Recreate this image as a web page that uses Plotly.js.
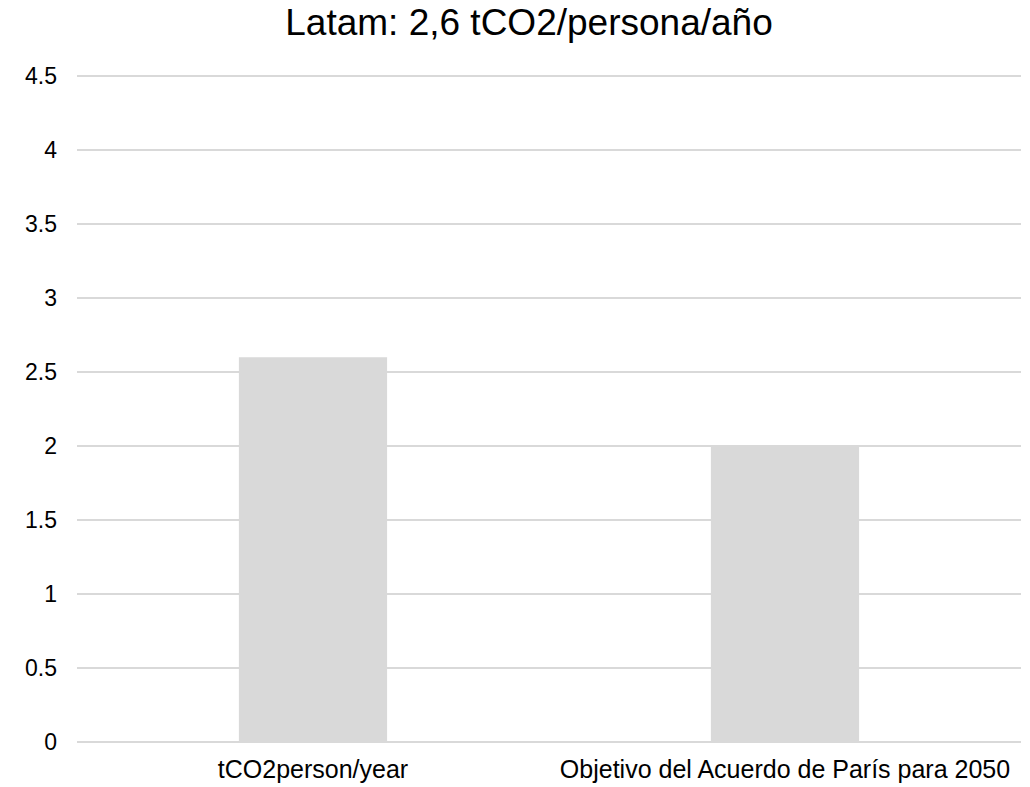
<!DOCTYPE html>
<html>
<head>
<meta charset="utf-8">
<script src="https://cdn.plot.ly/plotly-3.0.1.min.js"></script>
<style>html,body{margin:0;padding:0;background:#fff}#chart{width:1030px;height:787px}</style>
</head>
<body>
<div id="chart"></div>
<script>
const categories = ["tCO2person/year", "Objetivo del Acuerdo de París para 2050"];
const values = [2.6, 2.0];
const yTicks = [0, 0.5, 1, 1.5, 2, 2.5, 3, 3.5, 4, 4.5];
const yTickLabels = ["0", "0.5", "1", "1.5", "2", "2.5", "3", "3.5", "4", "4.5"];
const titleText = "Latam: 2,6 tCO2/persona/año";

const font = "Liberation Sans, Arial, sans-serif";
Plotly.newPlot("chart", [{
  type: "bar",
  x: categories,
  y: values,
  marker: {color: "#d9d9d9"},
  hoverinfo: "x+y"
}], {
  width: 1030, height: 787,
  margin: {l: 77, r: 9, t: 73, b: 45},
  paper_bgcolor: "#fff", plot_bgcolor: "#fff",
  bargap: 0.686,
  title: {text: titleText, font: {family: font, size: 37, color: "#000"}, x: 0.5136, xanchor: "center", y: 0.972, yanchor: "middle"},
  xaxis: {showgrid: false, showline: false, zeroline: false, ticks: "", tickfont: {family: font, size: 25, color: "#000"}, ticklabelstandoff: 10},
  yaxis: {range: [0, 4.52], tickvals: yTicks, ticktext: yTickLabels, showgrid: true, gridcolor: "#d9d9d9", gridwidth: 1.5, zeroline: true, zerolinecolor: "#d9d9d9", zerolinewidth: 1.5, showline: false, ticks: "", tickfont: {family: font, size: 23, color: "#000"}, ticklabelstandoff: 19},
  showlegend: false
}, {displayModeBar: false});
</script>
</body>
</html>
